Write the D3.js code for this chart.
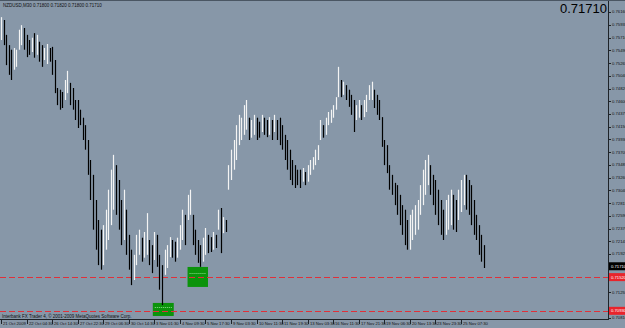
<!DOCTYPE html>
<html>
<head>
<meta charset="utf-8">
<script src="https://cdn.jsdelivr.net/npm/d3@7"></script>
<style>
  body { margin: 0; background: #8797a8; }
  svg { display: block; }
</style>
</head>
<body>
<svg id="chart"></svg>
<script>
// NZDUSD M30, one sample every ~5 bars (high / low)
const highs = [
  0.7607, 0.7602, 0.7576, 0.7558, 0.7550, 0.7553, 0.7550, 0.7585, 0.7593, 0.7588,
  0.7576, 0.7567, 0.7571, 0.7579, 0.7576, 0.7564, 0.7558, 0.7553, 0.7560, 0.7553,
  0.7555, 0.7532, 0.7483, 0.7480, 0.7476, 0.7497, 0.7513, 0.7492, 0.7483, 0.7462,
  0.7462, 0.7445, 0.7431, 0.7418, 0.7392, 0.7357, 0.7331, 0.7287, 0.7252, 0.7235,
  0.7243, 0.7270, 0.7305, 0.7340, 0.7366, 0.7348, 0.7322, 0.7287, 0.7305, 0.7270,
  0.7226, 0.7200, 0.7191, 0.7226, 0.7235, 0.7221, 0.7231, 0.7264, 0.7217, 0.7208,
  0.7231, 0.7226, 0.7191, 0.7173, 0.7200, 0.7208, 0.7222, 0.7217, 0.7214, 0.7221,
  0.7243, 0.7270, 0.7261, 0.7296, 0.7305, 0.7261, 0.7235, 0.7217, 0.7208, 0.7221,
  0.7238, 0.7226, 0.7222, 0.7231, 0.7226, 0.7270, 0.7273, 0.7257, 0.7252, 0.7348,
  0.7375, 0.7392, 0.7418, 0.7436, 0.7431, 0.7453, 0.7462, 0.7431, 0.7427, 0.7436,
  0.7431, 0.7424, 0.7436, 0.7431, 0.7427, 0.7432, 0.7427, 0.7436, 0.7427, 0.7431,
  0.7418, 0.7401, 0.7392, 0.7375, 0.7357, 0.7348, 0.7340, 0.7340, 0.7343, 0.7336,
  0.7348, 0.7357, 0.7362, 0.7375, 0.7383, 0.7427, 0.7418, 0.7431, 0.7441, 0.7445,
  0.7453, 0.7467, 0.7520, 0.7497, 0.7494, 0.7488, 0.7480, 0.7471, 0.7462, 0.7453,
  0.7462, 0.7453, 0.7462, 0.7471, 0.7488, 0.7494, 0.7480, 0.7471, 0.7462, 0.7432,
  0.7392, 0.7383, 0.7348, 0.7331, 0.7317, 0.7313, 0.7296, 0.7278, 0.7270, 0.7252,
  0.7261, 0.7270, 0.7278, 0.7287, 0.7313, 0.7340, 0.7357, 0.7366, 0.7348, 0.7331,
  0.7322, 0.7305, 0.7287, 0.7270, 0.7287, 0.7296, 0.7305, 0.7296, 0.7287, 0.7305,
  0.7322, 0.7331, 0.7331, 0.7322, 0.7313, 0.7287, 0.7261, 0.7243, 0.7226, 0.7208
];
const lows = [
  0.7567, 0.7558, 0.7523, 0.7506, 0.7497, 0.7515, 0.7520, 0.7550, 0.7558, 0.7550,
  0.7537, 0.7541, 0.7546, 0.7536, 0.7541, 0.7529, 0.7520, 0.7532, 0.7525, 0.7529,
  0.7506, 0.7474, 0.7453, 0.7445, 0.7448, 0.7462, 0.7474, 0.7453, 0.7445, 0.7427,
  0.7413, 0.7418, 0.7392, 0.7375, 0.7331, 0.7287, 0.7235, 0.7200, 0.7173, 0.7165,
  0.7173, 0.7200, 0.7217, 0.7243, 0.7270, 0.7261, 0.7235, 0.7208, 0.7217, 0.7191,
  0.7165, 0.7138, 0.7147, 0.7173, 0.7191, 0.7179, 0.7186, 0.7191, 0.7173, 0.7159,
  0.7182, 0.7170, 0.7130, 0.7103, 0.7156, 0.7168, 0.7187, 0.7186, 0.7179, 0.7186,
  0.7200, 0.7217, 0.7208, 0.7252, 0.7261, 0.7208, 0.7191, 0.7177, 0.7170, 0.7179,
  0.7191, 0.7194, 0.7196, 0.7200, 0.7203, 0.7235, 0.7194, 0.7229, 0.7231, 0.7305,
  0.7322, 0.7340, 0.7357, 0.7383, 0.7392, 0.7401, 0.7410, 0.7392, 0.7396, 0.7401,
  0.7392, 0.7396, 0.7406, 0.7401, 0.7397, 0.7401, 0.7392, 0.7406, 0.7392, 0.7383,
  0.7375, 0.7357, 0.7340, 0.7322, 0.7313, 0.7308, 0.7313, 0.7308, 0.7319, 0.7313,
  0.7319, 0.7331, 0.7340, 0.7348, 0.7357, 0.7392, 0.7396, 0.7401, 0.7418, 0.7422,
  0.7431, 0.7445, 0.7467, 0.7467, 0.7471, 0.7462, 0.7450, 0.7436, 0.7406, 0.7427,
  0.7431, 0.7427, 0.7432, 0.7441, 0.7462, 0.7462, 0.7448, 0.7436, 0.7427, 0.7380,
  0.7348, 0.7334, 0.7305, 0.7296, 0.7278, 0.7261, 0.7243, 0.7226, 0.7208, 0.7200,
  0.7200, 0.7217, 0.7226, 0.7235, 0.7261, 0.7278, 0.7296, 0.7313, 0.7296, 0.7278,
  0.7261, 0.7243, 0.7226, 0.7217, 0.7226, 0.7235, 0.7243, 0.7235, 0.7231, 0.7252,
  0.7266, 0.7278, 0.7270, 0.7261, 0.7243, 0.7226, 0.7217, 0.7191, 0.7179, 0.7168
];

const dateLabels = [
  '21 Oct 2009', '22 Oct 04:30', '26 Oct 14:30', '27 Oct 22:30', '29 Oct 06:30',
  '30 Oct 14:30', '3 Nov 01:30', '4 Nov 09:30', '5 Nov 17:30', '9 Nov 03:30',
  '10 Nov 11:30', '11 Nov 19:30', '13 Nov 03:30', '16 Nov 11:30', '17 Nov 21:30',
  '19 Nov 06:30', '20 Nov 13:30', '23 Nov 23:30', '25 Nov 07:30'
];
const samplesPerLabel = 10;

const priceTicks = [
  0.76160, 0.75935, 0.75710, 0.75490, 0.75265, 0.75040, 0.74820, 0.74600, 0.74375,
  0.74150, 0.73930, 0.73705, 0.73485, 0.73260, 0.73040, 0.72815, 0.72590, 0.72370,
  0.72145, 0.71925, 0.71700, 0.71480, 0.71255, 0.71030, 0.70810
];

const symbol = 'NZDUSD,M30';
const lastQuote = [0.71800, 0.71820, 0.71800, 0.71710]; // open high low close
const bidPrice = 0.71710;
const hLevels = [0.71520, 0.70930];

// rectangle objects: start / end sample, top / bottom price, dotted level
const boxStart = [59.4, 73.0];
const boxEnd = [67.6, 81.0];
const boxTop = [0.71068, 0.71698];
const boxBottom = [0.70840, 0.71348];
const boxMid = [0.71000, 0.71600];

const width = 625;
const height = 328;
const plotRight = 608;
const plotBottom = 319;

const svg = d3.select('#chart')
  .attr('width', width)
  .attr('height', height)
  .style('font-family', '"Liberation Sans", Arial, sans-serif');

const x = d3.scaleLinear()
  .domain([0, 180])
  .range([1, 461]);

const y = d3.scaleLinear()
  .domain([0.70787, 0.76370])
  .range([plotBottom, 0]);

svg.append('clipPath').attr('id', 'plot')
  .append('rect').attr('x', 0).attr('y', 0)
  .attr('width', plotRight).attr('height', plotBottom);

const plot = svg.append('g').attr('clip-path', 'url(#plot)');

// rectangles first, bars draw over them
boxStart.forEach((s, i) => {
  plot.append('rect')
    .attr('x', x(s))
    .attr('y', y(boxTop[i]))
    .attr('width', x(boxEnd[i]) - x(s))
    .attr('height', y(boxBottom[i]) - y(boxTop[i]))
    .attr('fill', '#0b930b');
  plot.append('line')
    .attr('x1', x(s) + 2).attr('x2', x(boxEnd[i]) - 2)
    .attr('y1', Math.round(y(boxMid[i])) + 0.5).attr('y2', Math.round(y(boxMid[i])) + 0.5)
    .attr('stroke', '#8ee08e')
    .attr('stroke-dasharray', '1,1');
});

// horizontal levels
plot.selectAll('line.level')
  .data(hLevels)
  .enter()
  .append('line')
  .attr('class', 'level')
  .attr('x1', 0).attr('x2', plotRight)
  .attr('y1', d => Math.round(y(d)) + 0.5)
  .attr('y2', d => Math.round(y(d)) + 0.5)
  .attr('stroke', '#e0303a')
  .attr('shape-rendering', 'crispEdges')
  .attr('stroke-dasharray', '6,3');

// bars
const bars = highs.map((h, i) => {
  const mid = (h + lows[i]) / 2;
  const prev = i > 0 ? (highs[i - 1] + lows[i - 1]) / 2 : mid;
  return { i, high: h, low: lows[i], up: mid >= prev };
});

plot.selectAll('line.bar')
  .data(bars)
  .enter()
  .append('line')
  .attr('class', 'bar')
  .attr('x1', d => Math.round(x(d.i)) + 0.5)
  .attr('x2', d => Math.round(x(d.i)) + 0.5)
  .attr('y1', d => y(d.high))
  .attr('y2', d => y(d.low))
  .attr('stroke', d => d.up ? '#f4f4f4' : '#000000')
  .attr('stroke-width', 1.2);

// frame / axes
svg.append('line')
  .attr('x1', plotRight + 0.5).attr('x2', plotRight + 0.5)
  .attr('y1', 0).attr('y2', plotBottom + 1)
  .attr('stroke', '#1e2328');
svg.append('line')
  .attr('x1', 0).attr('x2', plotRight + 1)
  .attr('y1', plotBottom + 0.5).attr('y2', plotBottom + 0.5)
  .attr('stroke', '#1e2328');
svg.append('line')
  .attr('x1', 0).attr('x2', width)
  .attr('y1', 0.5).attr('y2', 0.5)
  .attr('stroke', '#4a5663');

// price scale (hide ticks under the price tags)
const tagged = hLevels.concat([bidPrice]);
const ticks = priceTicks.filter(p => tagged.every(t => Math.abs(y(p) - y(t)) > 6));

const yTick = svg.append('g');
yTick.selectAll('line')
  .data(ticks)
  .enter()
  .append('line')
  .attr('x1', plotRight).attr('x2', plotRight + 3)
  .attr('y1', d => Math.round(y(d)) + 0.5)
  .attr('y2', d => Math.round(y(d)) + 0.5)
  .attr('stroke', '#1e2328');
yTick.selectAll('text')
  .data(ticks)
  .enter()
  .append('text')
  .attr('x', plotRight + 4)
  .attr('y', d => y(d))
  .attr('dy', '0.35em')
  .style('font-size', '4.2px')
  .attr('fill', '#111')
  .text(d => d.toFixed(5));

// price tags
const tagColor = p => hLevels.includes(p) ? '#e8242b' : '#000000';
tagged.forEach(p => {
  svg.append('rect')
    .attr('x', plotRight + 1)
    .attr('y', y(p) - 4)
    .attr('width', width - plotRight)
    .attr('height', 8)
    .attr('fill', tagColor(p));
  svg.append('text')
    .attr('x', plotRight + 3)
    .attr('y', y(p))
    .attr('dy', '0.35em')
    .style('font-size', '4.2px')
    .attr('fill', '#ffffff')
    .text(p.toFixed(5));
});

// time scale
const xTick = svg.append('g');
dateLabels.forEach((lbl, i) => {
  const px = Math.round(x(i * samplesPerLabel)) + 0.5;
  xTick.append('line')
    .attr('x1', px).attr('x2', px)
    .attr('y1', plotBottom).attr('y2', plotBottom + 5)
    .attr('stroke', '#1e2328');
  xTick.append('text')
    .attr('x', px + 1.5)
    .attr('y', plotBottom + 5.5)
    .style('font-size', '4.2px')
    .attr('fill', '#111')
    .text(lbl);
});

// texts
svg.append('text')
  .attr('x', 3).attr('y', 6.5)
  .style('font-size', '4.5px')
  .attr('fill', '#111')
  .text(symbol + '  ' + lastQuote.map(v => v.toFixed(5)).join(' '));

svg.append('text')
  .attr('x', 2).attr('y', plotBottom - 1.5)
  .style('font-size', '4.5px')
  .attr('fill', '#111')
  .text('Interbank FX Trader 4, \u00a9 2001-2009 MetaQuotes Software Corp.');

svg.append('text')
  .attr('x', plotRight - 1).attr('y', 13)
  .attr('text-anchor', 'end')
  .style('font-size', '13px')
  .attr('fill', '#000')
  .text(bidPrice.toFixed(5));
</script>
</body>
</html>
